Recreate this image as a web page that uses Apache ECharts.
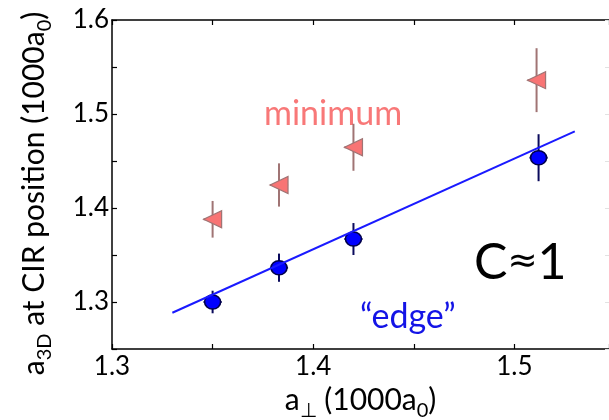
<!DOCTYPE html>
<html>
<head>
<meta charset="utf-8">
<script src="https://cdn.jsdelivr.net/npm/echarts@6/dist/echarts.min.js"></script>
<style>
  html, body { margin: 0; padding: 0; background: #fff; overflow: hidden; }
  #chart { width: 609px; height: 420px; }
</style>
</head>
<body>
<div id="chart"></div>
<script>
// a_perp positions (1000 a0)
const edgeX = [1.350, 1.383, 1.420, 1.512];
const edgeY = [1.300, 1.3365, 1.367, 1.4535];
const edgeYErr = [0.012, 0.015, 0.017, 0.025];
const edgeXErr = [0.0045, 0.0045, 0.0045, 0.0045];

const minX = [1.350, 1.383, 1.420, 1.511];
const minY = [1.388, 1.4245, 1.4646, 1.536];
const minYErr = [0.0195, 0.023, 0.025, 0.034];
const minXErr = [0.0045, 0.0045, 0.0045, 0.0045];

// linear fit through the edge points
const fitX = [1.330, 1.530];
const fitY = [1.2886, 1.4816];

const xTickLabels = ['1.3', '1.4', '1.5'];
const yTickLabels = ['1.3', '1.4', '1.5', '1.6'];

const FONT = 'Lato';
const edgeColor = '#0000ff';
const edgeBarColor = '#0a0a5c';
const minColor = '#f87474';
const minBarColor = '#a07474';

const pairs = (xs, ys) => xs.map((x, i) => [x, ys[i]]);
const errRows = (xs, ys, ey, ex) => xs.map((x, i) => [x, ys[i], ey[i], ex[i]]);

function tickLabel(list) {
  return function (v) {
    const s = (Math.round(v * 100) / 100).toFixed(2).replace(/0$/, '');
    return list.indexOf(s) >= 0 ? s : '';
  };
}

function errorBars(color) {
  return function (params, api) {
    const x = api.value(0), y = api.value(1), ey = api.value(2), ex = api.value(3);
    const t = api.coord([x, y + ey]);
    const b = api.coord([x, y - ey]);
    const l = api.coord([x - ex, y]);
    const r = api.coord([x + ex, y]);
    const st = { stroke: color, lineWidth: 2 };
    return {
      type: 'group',
      children: [
        { type: 'line', shape: { x1: t[0], y1: t[1], x2: b[0], y2: b[1] }, style: st },
        { type: 'line', shape: { x1: l[0], y1: l[1], x2: r[0], y2: r[1] }, style: st }
      ]
    };
  };
}

const axisCommon = {
  interval: 0.05,
  axisLine: { show: true, onZero: false, lineStyle: { color: '#000', width: 1.5 } },
  axisTick: { show: true, inside: true, length: 5, lineStyle: { color: '#000', width: 1.2 } },
  splitLine: { show: false },
  splitArea: { show: false },
  minorTick: { show: false },
  minorSplitLine: { show: false }
};

const titleRich = {
  t: { fontFamily: FONT, fontSize: 30, color: '#000', lineHeight: 36, verticalAlign: 'bottom' },
  s: { fontFamily: FONT, fontSize: 20, color: '#000', lineHeight: 18, verticalAlign: 'bottom', padding: [0, 0, -6, 0] }
};

const chart = echarts.init(document.getElementById('chart'), null, { renderer: 'canvas' });

chart.setOption({
  animation: false,
  backgroundColor: '#fff',
  grid: { left: 112, top: 20, width: 497, height: 329, outerBoundsMode: 'none' },
  xAxis: [
    Object.assign({}, axisCommon, {
      type: 'value', position: 'bottom', min: 1.3, max: 1.547,
      axisLabel: { formatter: tickLabel(xTickLabels), fontFamily: FONT, fontSize: 26, color: '#000', margin: 5 },
      name: '{t|a}{s|⊥}{t| (1000a}{s|0}{t|)}',
      nameLocation: 'middle', nameGap: 29,
      nameTextStyle: { padding: [0, 0, 0, 0], rich: titleRich }
    }),
    Object.assign({}, axisCommon, {
      type: 'value', position: 'top', min: 1.3, max: 1.547,
      axisLabel: { show: false }
    })
  ],
  yAxis: [
    Object.assign({}, axisCommon, {
      type: 'value', position: 'left', min: 1.25, max: 1.6,
      axisLabel: { formatter: tickLabel(yTickLabels), fontFamily: FONT, fontSize: 26, color: '#000', margin: 3, showMaxLabel: true },
      name: '{t|a}{s|3D}{t| at CIR position (1000a}{s|0}{t|)}',
      nameLocation: 'middle', nameGap: 63, nameRotate: 90,
      nameTextStyle: { padding: [0, 18, 0, 0], rich: titleRich }
    }),
    Object.assign({}, axisCommon, {
      type: 'value', position: 'right', min: 1.25, max: 1.6,
      axisLabel: { show: false },
      axisLine: { show: false },
      axisTick: { show: true, inside: true, length: 4, lineStyle: { color: '#e2e2e2', width: 1 } }
    })
  ],
  graphic: [
    { type: 'text', left: 264, top: 97, style: { text: 'minimum', fontFamily: FONT, fontSize: 34, fill: '#f87878' } },
    { type: 'text', left: 360, top: 300, style: { text: '\u201cedge\u201d', fontFamily: FONT, fontSize: 34, fill: '#1414e6' } },
    {
      type: 'text', left: 474, top: 238,
      style: {
        text: '{c|C}{a|\u2248}{c|1}',
        rich: {
          c: { fontFamily: FONT, fontSize: 50, fill: '#000', lineHeight: 56 },
          a: { fontFamily: 'DejaVu Sans', fontSize: 36, fill: '#000', lineHeight: 56 }
        }
      }
    }
  ],
  series: [
    {
      type: 'custom', name: 'minimum-err', renderItem: errorBars(minBarColor),
      data: errRows(minX, minY, minYErr, minXErr), z: 2, silent: true
    },
    {
      type: 'custom', name: 'edge-err', renderItem: errorBars(edgeBarColor),
      data: errRows(edgeX, edgeY, edgeYErr, edgeXErr), z: 2, silent: true
    },
    {
      type: 'scatter', name: 'minimum', data: pairs(minX, minY),
      symbol: 'triangle', symbolRotate: 90, symbolSize: [17, 18],
      itemStyle: { color: minColor, borderColor: minBarColor, borderWidth: 1.2, opacity: 1 }, z: 3
    },
    {
      type: 'scatter', name: 'edge', data: pairs(edgeX, edgeY),
      symbol: 'circle', symbolSize: [16, 14],
      itemStyle: { color: edgeColor, borderColor: '#00004a', borderWidth: 1.5, opacity: 1 }, z: 3
    },
    {
      type: 'line', name: 'fit', data: pairs(fitX, fitY), showSymbol: false,
      lineStyle: { color: '#1a1aff', width: 2 }, z: 4
    }
  ]
});
</script>
</body>
</html>
